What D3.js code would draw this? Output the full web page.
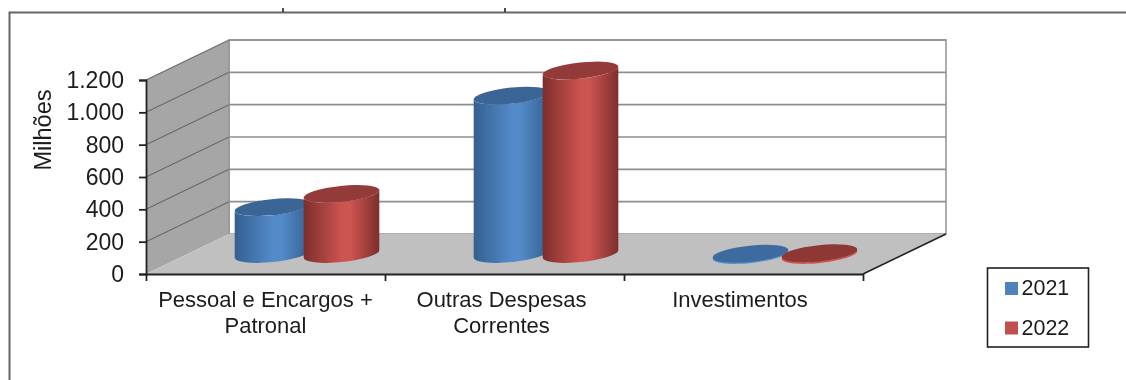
<!DOCTYPE html>
<html><head><meta charset="utf-8">
<script src="https://cdn.jsdelivr.net/npm/d3@7"></script>
<style>html,body{margin:0;padding:0;background:#fff}svg{display:block}text{font-family:"Liberation Sans",Arial,sans-serif;fill:#1c1c1c}</style>
</head><body><svg id="c" width="1126" height="380"></svg>
<script>
const categories=["Pessoal e Encargos +|Patronal","Outras Despesas|Correntes","Investimentos"];
const seriesNames=["2021","2022"];
const values2021=[290,980,2];
const values2022=[372,1135,5];
const yTicks=[0,200,400,600,800,1000,1200];
const colors={"2021":["#34608f","#538ac9","#3c6a9f","#3a6594","#4f81bd"],"2022":["#7d2e2c","#cc5450","#8e3735","#923a38","#c0504d"]};

const svg=d3.select("#c");
const defs=svg.append("defs");
defs.append("filter").attr("id","soft").append("feGaussianBlur").attr("stdDeviation",0.5);
const root=svg.append("g").attr("filter","url(#soft)");

const W=1126,H=380;
const x=d3.scaleBand().domain(categories).range([146,863]);
const y=d3.scaleLinear().domain([0,1200]).range([274,80]);
const dx=83,dy=-40;
const fmt=d3.formatLocale({decimal:",",thousands:".",grouping:[3],currency:["",""]}).format(",d");

// frame
root.append("path").attr("d",`M9.5,${H}V12.5H${W}`).attr("fill","none").attr("stroke","#666").attr("stroke-width",2);
root.selectAll(".fm").data([283,505]).join("line").attr("x1",d=>d).attr("x2",d=>d).attr("y1",8).attr("y2",12).attr("stroke","#222").attr("stroke-width",1.6);

// walls
const bw=[146+dx,863+dx];
root.append("rect").attr("x",bw[0]).attr("y",y(1200)+dy).attr("width",bw[1]-bw[0]).attr("height",y(0)-y(1200)).attr("fill","#fff").attr("stroke","#999").attr("stroke-width",1.6);
root.append("polygon").attr("points",[[146,y(0)],[146,y(1200)],[146+dx,y(1200)+dy],[146+dx,y(0)+dy]].join(" ")).attr("fill","#a6a6a6");
root.append("polygon").attr("points",[[146,y(0)],[146+dx,y(0)+dy],[863+dx,y(0)+dy],[863,y(0)]].join(" ")).attr("fill","#c0c0c0");
const g=root.append("g");
g.selectAll(".gb").data(yTicks.slice(1)).join("line").attr("x1",bw[0]).attr("x2",bw[1]).attr("y1",d=>y(d)+dy).attr("y2",d=>y(d)+dy).attr("stroke","#8f8f8f").attr("stroke-width",1.6);
g.selectAll(".gs").data(yTicks.slice(1)).join("line").attr("x1",146).attr("x2",bw[0]).attr("y1",d=>y(d)).attr("y2",d=>y(d)+dy).attr("stroke","#6a6a6a").attr("stroke-width",1.1);
g.append("line").attr("x1",bw[0]).attr("x2",bw[0]).attr("y1",y(1200)+dy).attr("y2",y(0)+dy).attr("stroke","#8a8a8a");
g.append("line").attr("x1",863).attr("y1",y(0)).attr("x2",863+dx).attr("y2",y(0)+dy).attr("stroke","#222").attr("stroke-width",1.6);

// cylinders
const rx=38,ry=8,rot=-6,off=34.5;
const a=rot*Math.PI/180;
const t0=Math.atan2(-ry*Math.sin(a),rx*Math.cos(a));
const ex=rx*Math.cos(t0)*Math.cos(a)-ry*Math.sin(t0)*Math.sin(a);
const ey=rx*Math.cos(t0)*Math.sin(a)+ry*Math.sin(t0)*Math.cos(a);
seriesNames.forEach(s=>{
  const c=colors[s];
  const gr=defs.append("linearGradient").attr("id","g"+s);
  [[0,c[0]],[.5,c[1]],[.62,c[1]],[1,c[0]]].forEach(p=>gr.append("stop").attr("offset",p[0]).attr("stop-color",p[1]));
});
const bars=seriesNames.flatMap((s,i)=>categories.map((k,j)=>({s,i,k,v:(i?values2022:values2021)[j]})));
const cyl=root.selectAll(".cyl").data(bars).join("g").attr("class","cyl");
cyl.each(function(d){
  const cx=x(d.k)+x.bandwidth()/2+dx/2+(d.i?off:-off);
  const yb=y(0)+dy/2, yt=y(d.v)+dy/2;
  const sel=d3.select(this);
  const arc=`A${rx},${ry} ${rot} 0 0`;
  if(yb-yt>3) sel.append("path")
    .attr("d",`M${cx-ex},${yt-ey}L${cx-ex},${yb-ey}${arc} ${cx+ex},${yb+ey}L${cx+ex},${yt+ey}${arc.replace("0 0","0 1")} ${cx-ex},${yt-ey}Z`)
    .attr("fill",`url(#g${d.s})`);
  else sel.append("ellipse").attr("transform",`translate(${cx},${yb+1}) rotate(${rot})`).attr("rx",rx).attr("ry",ry).attr("fill",colors[d.s][1]);
  sel.append("ellipse").attr("transform",`translate(${cx},${yt}) rotate(${rot})`).attr("rx",rx).attr("ry",ry).attr("fill",colors[d.s][yb-yt>3?3:2]);
});

// axes
const yAxis=d3.axisLeft(y).tickValues(yTicks).tickFormat(fmt).tickSize(7).tickPadding(15);
const ya=root.append("g").attr("transform","translate(146,0)").call(yAxis);
ya.selectAll("text").attr("font-size",23);
ya.selectAll(".domain,line").attr("stroke","#222").attr("stroke-width",1.8);
const xAxis=d3.axisBottom(d3.scaleLinear().domain([0,3]).range([146,863])).tickValues([0,1,2,3]).tickFormat("").tickSize(7).tickSizeOuter(0);
const xa=root.append("g").attr("transform",`translate(0,${y(0)})`).call(xAxis);
xa.selectAll(".domain,line").attr("stroke","#222").attr("stroke-width",1.8);

// category labels
const catShift=[0,-3,-3.5];
root.selectAll(".cat").data(categories).join("text").attr("class","cat")
 .attr("text-anchor","middle").attr("font-size",22)
 .each(function(d,j){
   const sel=d3.select(this);
   d.split("|").forEach((t,i)=>sel.append("tspan").attr("x",x(d)+x.bandwidth()/2+catShift[j]).attr("y",307+i*26).text(t));
 });

// y title
root.append("text").attr("transform","translate(51,130) rotate(-90)").attr("text-anchor","middle").attr("font-size",23.5).text("Milhões");

// legend
root.append("rect").attr("x",987.5).attr("y",268).attr("width",101).attr("height",79).attr("fill","#fff").attr("stroke","#222").attr("stroke-width",1.6);
const lg=root.selectAll(".lg").data(seriesNames).join("g").attr("class","lg");
lg.append("rect").attr("x",1005).attr("y",(d,i)=>282+i*39.5).attr("width",13).attr("height",13).attr("fill",d=>colors[d][4]);
lg.append("text").attr("x",1021.5).attr("y",(d,i)=>295+i*40).attr("font-size",21.5).text(d=>d);
</script></body></html>
